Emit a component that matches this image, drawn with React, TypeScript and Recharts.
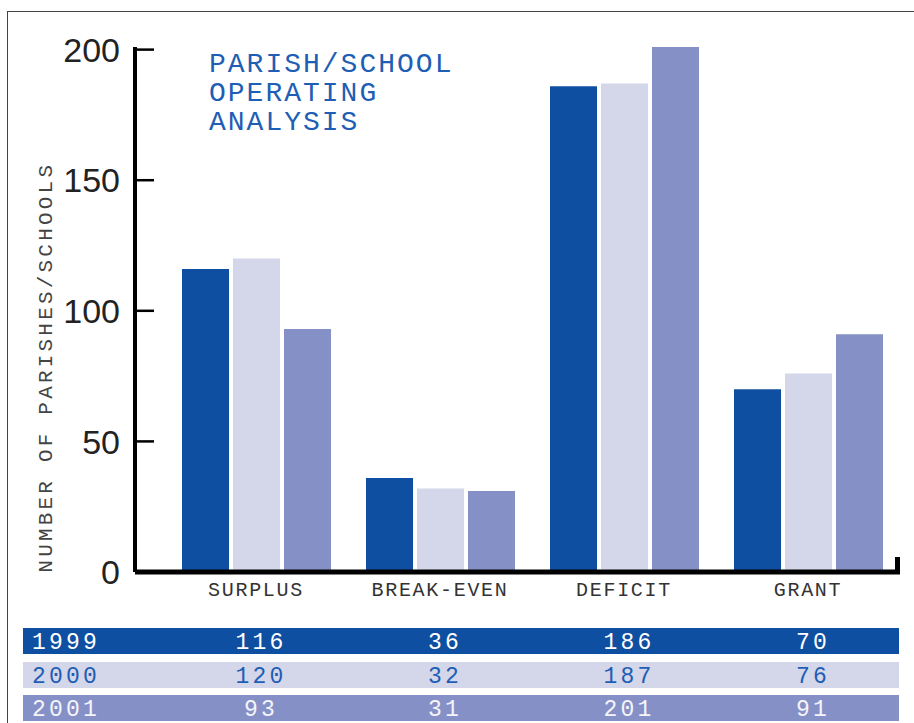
import React from 'react';
import { BarChart, Bar, XAxis, YAxis, Label } from 'recharts';

const categories = ['SURPLUS', 'BREAK-EVEN', 'DEFICIT', 'GRANT'];
const years = ['1999', '2000', '2001'];
const values1999 = [116, 36, 186, 70];
const values2000 = [120, 32, 187, 76];
const values2001 = [93, 31, 201, 91];
const yTicks = [0, 50, 100, 150, 200];
const titleLines = ['PARISH/SCHOOL', 'OPERATING', 'ANALYSIS'];

const seriesValues = [values1999, values2000, values2001];
const barColors = ['#0f4fa1', '#d4d6ea', '#8591c6'];
const rowTextColors = ['#ffffff', '#1e5eb4', '#f4f4fa'];

const data = categories.map((name, i) => ({
  name,
  y1999: values1999[i],
  y2000: values2000[i],
  y2001: values2001[i],
}));

const MONO = '"Liberation Mono", "DejaVu Sans Mono", monospace';

// layout
const CHART_W = 914;
const CHART_H = 620;
const margin = { top: 47, right: 14, left: 35, bottom: 18 };
const Y_AXIS_W = 100;
const X_PAD_LEFT = 29;
const plotLeft = margin.left + Y_AXIS_W;
const plotRight = CHART_W - margin.right;
const band = (plotRight - plotLeft - X_PAD_LEFT) / categories.length;
const catCenter = (i: number) => plotLeft + X_PAD_LEFT + band * (i + 0.5);
const rowTops = [628, 662, 695];

const YTick = (props: any) => {
  const { x, y, payload } = props;
  return (
    <g>
      <line x1={x} x2={x + 19} y1={y} y2={y} stroke="#000" strokeWidth={2.5} />
      <text
        x={x - 15}
        y={y}
        dy="0.36em"
        textAnchor="end"
        fontSize={34}
        fontFamily='"Liberation Sans", Arial, sans-serif'
        fill="#222"
      >
        {payload.value}
      </text>
    </g>
  );
};

const YLabel = (props: any) => {
  const vb = props.viewBox || { x: 35, y: 47, width: 100, height: 525 };
  const cx = vb.x + 10;
  const cy = vb.y + vb.height * 0.61;
  return (
    <text
      x={cx}
      y={cy}
      transform={`rotate(-90, ${cx}, ${cy})`}
      textAnchor="middle"
      dy="0.35em"
      fontFamily={MONO}
      fontSize={21}
      letterSpacing={3.2}
      fill="#444"
    >
      NUMBER OF PARISHES/SCHOOLS
    </text>
  );
};

export default function App() {
  return (
    <div style={{ position: 'absolute', left: 0, top: 0, width: 914, height: 723, overflow: 'hidden', background: '#fff' }}>
      <div
        style={{
          position: 'absolute',
          left: 7,
          top: 11,
          width: 940,
          height: 740,
          borderLeft: '1.5px solid #444',
          borderTop: '1.5px solid #444',
        }}
      />
      <div style={{ position: 'absolute', left: 0, top: 0 }}>
        <BarChart width={CHART_W} height={CHART_H} data={data} margin={margin} barGap={4}>
          <XAxis
            dataKey="name"
            padding={{ left: X_PAD_LEFT, right: 0 }}
            height={30}
            axisLine={{ stroke: '#000', strokeWidth: 5 }}
            tickLine={false}
            tickSize={0}
            tickMargin={10}
            tick={{ fill: '#333', fontSize: 20, fontFamily: MONO, letterSpacing: 1.7 }}
            interval={0}
          />
          <YAxis
            width={Y_AXIS_W}
            domain={[0, 201]}
            ticks={yTicks}
            axisLine={{ stroke: '#000', strokeWidth: 4 }}
            tickLine={false}
            tickSize={0}
            tickMargin={0}
            tick={<YTick />}
            interval={0}
          >
            <Label content={<YLabel />} />
          </YAxis>
          {years.map((yr, i) => (
            <Bar
              key={yr}
              dataKey={`y${yr}`}
              fill={barColors[i]}
              barSize={47}
              isAnimationActive={false}
            />
          ))}
        </BarChart>
      </div>
      <div style={{ position: 'absolute', left: 895, top: 557, width: 5, height: 17, background: '#000' }} />
      <div
        style={{
          position: 'absolute',
          left: 209,
          top: 50,
          fontFamily: MONO,
          fontSize: 28,
          lineHeight: '29px',
          letterSpacing: 2,
          color: '#1e5eb4',
          whiteSpace: 'pre',
        }}
      >
        {titleLines.map((t) => (
          <div key={t}>{t}</div>
        ))}
      </div>
      {years.map((yr, r) => (
        <div
          key={yr}
          style={{
            position: 'absolute',
            left: 23,
            top: rowTops[r],
            width: 876,
            height: 26,
            background: barColors[r],
            fontFamily: MONO,
            fontSize: 23,
            color: rowTextColors[r],
          }}
        >
          <span style={{ position: 'absolute', left: 9, top: 4, lineHeight: '23px', letterSpacing: 3.2 }}>{yr}</span>
          {seriesValues[r].map((v, c) => (
            <span
              key={c}
              style={{
                position: 'absolute',
                left: catCenter(c) - 23 + 5 - 60,
                width: 120,
                textAlign: 'center',
                top: 4,
                lineHeight: '23px',
                letterSpacing: 3.2,
              }}
            >
              {v}
            </span>
          ))}
        </div>
      ))}
    </div>
  );
}
